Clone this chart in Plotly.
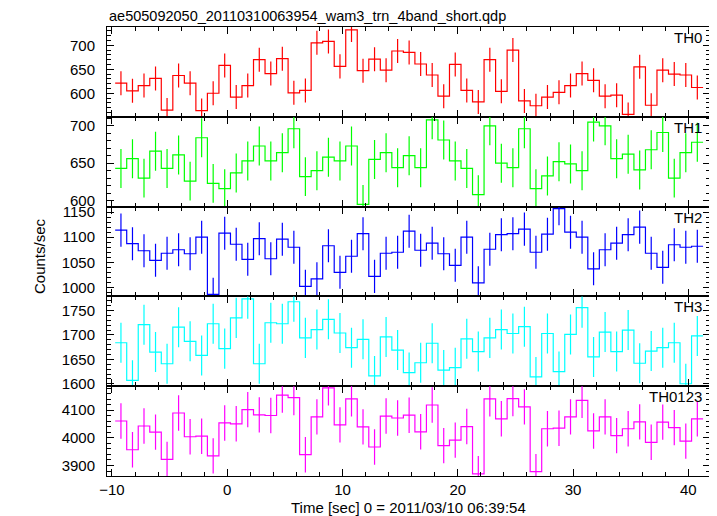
import plotly.graph_objects as go
from plotly.subplots import make_subplots

title_text = "ae505092050_20110310063954_wam3_trn_4band_short.qdp"
x_title = "Time [sec] 0 = 2011/03/10 06:39:54"
y_title = "Counts/sec"

time_sec = [-9.22, -8.22, -7.22, -6.22, -5.22, -4.22, -3.22, -2.22, -1.22, -0.22,
            0.78, 1.78, 2.78, 3.78, 4.78, 5.78, 6.78, 7.78, 8.78, 9.78,
            10.78, 11.78, 12.78, 13.78, 14.78, 15.78, 16.78, 17.78, 18.78, 19.78,
            20.78, 21.78, 22.78, 23.78, 24.78, 25.78, 26.78, 27.78, 28.78, 29.78,
            30.78, 31.78, 32.78, 33.78, 34.78, 35.78, 36.78, 37.78, 38.78, 39.78,
            40.78]
bin_half = 0.5

th0 = [621, 605, 616, 631, 565, 637, 621, 564, 600, 658, 592, 616, 670, 641, 672, 601, 606, 705, 708, 656,
       732, 647, 671, 648, 688, 685, 661, 638, 594, 660, 606, 582, 670, 604, 690, 584, 574, 592, 602, 616,
       641, 627, 594, 596, 556, 655, 575, 648, 640, 638, 612]
th1 = [643, 656, 630, 666, 643, 661, 626, 684, 623, 616, 637, 653, 673, 653, 664, 696, 632, 640, 658, 653,
       673, 595, 655, 664, 644, 660, 644, 708, 681, 653, 643, 608, 700, 650, 644, 696, 616, 633, 652, 649,
       640, 705, 700, 656, 662, 641, 668, 691, 630, 664, 678]
th2 = [1114, 1087, 1073, 1054, 1068, 1075, 1067, 1100, 986, 1108, 1086, 1056, 1097, 1057, 1096, 1080, 1002, 1017, 1083, 1030,
       1062, 1107, 1022, 1068, 1070, 1112, 1074, 1088, 1067, 1044, 1100, 1009, 1076, 1105, 1107, 1116, 1070, 1106, 1157, 1110,
       1100, 1037, 1075, 1088, 1105, 1120, 1068, 1040, 1085, 1080, 1082]
th3 = [1684, 1607, 1721, 1665, 1641, 1716, 1687, 1658, 1723, 1672, 1735, 1774, 1641, 1725, 1723, 1768, 1694, 1711, 1732, 1704,
       1674, 1691, 1616, 1696, 1669, 1623, 1643, 1683, 1628, 1633, 1692, 1666, 1694, 1711, 1703, 1717, 1614, 1703, 1625, 1701,
       1756, 1655, 1706, 1666, 1710, 1642, 1667, 1674, 1684, 1600, 1698]
th0123 = [4061, 3957, 4043, 4021, 3922, 4090, 4004, 4006, 3935, 4054, 4051, 4102, 4083, 4081, 4155, 4146, 3939, 4076, 4181, 4047,
          4141, 4040, 3967, 4079, 4072, 4082, 4022, 4119, 3972, 3992, 4041, 3870, 4141, 4069, 4142, 4112, 3878, 4033, 4035, 4076,
          4136, 4025, 4076, 4008, 4033, 4058, 3984, 4057, 4037, 3988, 4069]

panel_names = ["TH0", "TH1", "TH2", "TH3", "TH0123"]
panel_values = [th0, th1, th2, th3, th0123]
panel_errors = [25, 26, 33, 41, 64]
panel_colors = ["#ff0000", "#00ff00", "#0000ff", "#00ffff", "#ff00ff"]
panel_ranges = [[551, 738], [592, 712], [982, 1161], [1595, 1779], [3862, 4187]]
panel_dticks = [50, 50, 50, 50, 100]
panel_minor = [10, 10, 10, 10, 20]
x_range = [-10.43, 41.88]

FONT = "Liberation Sans, Arial, Helvetica, sans-serif"

fig = make_subplots(rows=5, cols=1, shared_xaxes=True, vertical_spacing=0)

edges = [t - bin_half for t in time_sec] + [time_sec[-1] + bin_half]

for i, (name, vals, err, col) in enumerate(zip(panel_names, panel_values, panel_errors, panel_colors)):
    r = i + 1
    fig.add_trace(go.Scatter(
        x=edges, y=list(vals) + [vals[-1]], mode="lines",
        line=dict(color=col, width=1.2, shape="hv"),
        showlegend=False, hoverinfo="skip"), row=r, col=1)
    fig.add_trace(go.Scatter(
        x=time_sec, y=vals, mode="markers",
        marker=dict(size=1, color=col),
        error_y=dict(type="constant", value=err, color=col, thickness=1.2, width=0),
        showlegend=False, name=name), row=r, col=1)

    fig.update_yaxes(
        range=panel_ranges[i], dtick=panel_dticks[i], tick0=0,
        ticks="inside", ticklen=7, tickwidth=1, tickcolor="black",
        minor=dict(dtick=panel_minor[i], ticks="inside", ticklen=4, tickcolor="black", tickwidth=1, showgrid=False),
        mirror="allticks", showline=True, linecolor="black", linewidth=1,
        showgrid=False, zeroline=False,
        tickfont=dict(family=FONT, size=15, color="black"),
        ticklabelstandoff=8,
        row=r, col=1)
    fig.update_xaxes(
        range=x_range, dtick=10, tick0=0,
        ticks="inside", ticklen=7, tickwidth=1, tickcolor="black",
        minor=dict(dtick=2, ticks="inside", ticklen=4, tickcolor="black", tickwidth=1, showgrid=False),
        mirror="allticks", showline=True, linecolor="black", linewidth=1,
        showgrid=False, zeroline=False,
        showticklabels=(r == 5),
        tickfont=dict(family=FONT, size=15, color="black"),
        row=r, col=1)

# panel labels
plot_h = 449.0
plot_w = 603.0
for i, name in enumerate(panel_names):
    top = 1.0 - 0.2 * i
    fig.add_annotation(text=name, xref="paper", yref="paper",
                       x=1.0 - 6.0 / plot_w, y=top - 10.5 / plot_h, xanchor="right", yanchor="middle",
                       showarrow=False, font=dict(family=FONT, size=15, color="black"))

fig.add_annotation(text=title_text, xref="paper", yref="paper", x=0.0, y=1.0 + 11.5 / plot_h,
                   xanchor="left", yanchor="middle", showarrow=False,
                   font=dict(family=FONT, size=14.5, color="black"))
fig.add_annotation(text=x_title, xref="paper", yref="paper", x=0.5, y=-31.0 / plot_h,
                   xanchor="center", yanchor="middle", showarrow=False,
                   font=dict(family=FONT, size=15, color="black"))
fig.add_annotation(text=y_title, xref="paper", yref="paper", x=-67.0 / plot_w, y=0.49,
                   xanchor="center", yanchor="middle", textangle=-90, showarrow=False,
                   font=dict(family=FONT, size=15, color="black"))

# page body adds an 8px offset; size the figure so the plot lands where the reference has it
fig.update_layout(
    width=709, height=508,
    margin=dict(l=99, r=7, t=19, b=40),
    paper_bgcolor="white", plot_bgcolor="white",
    showlegend=False,
)

fig.write_html("out.html")
